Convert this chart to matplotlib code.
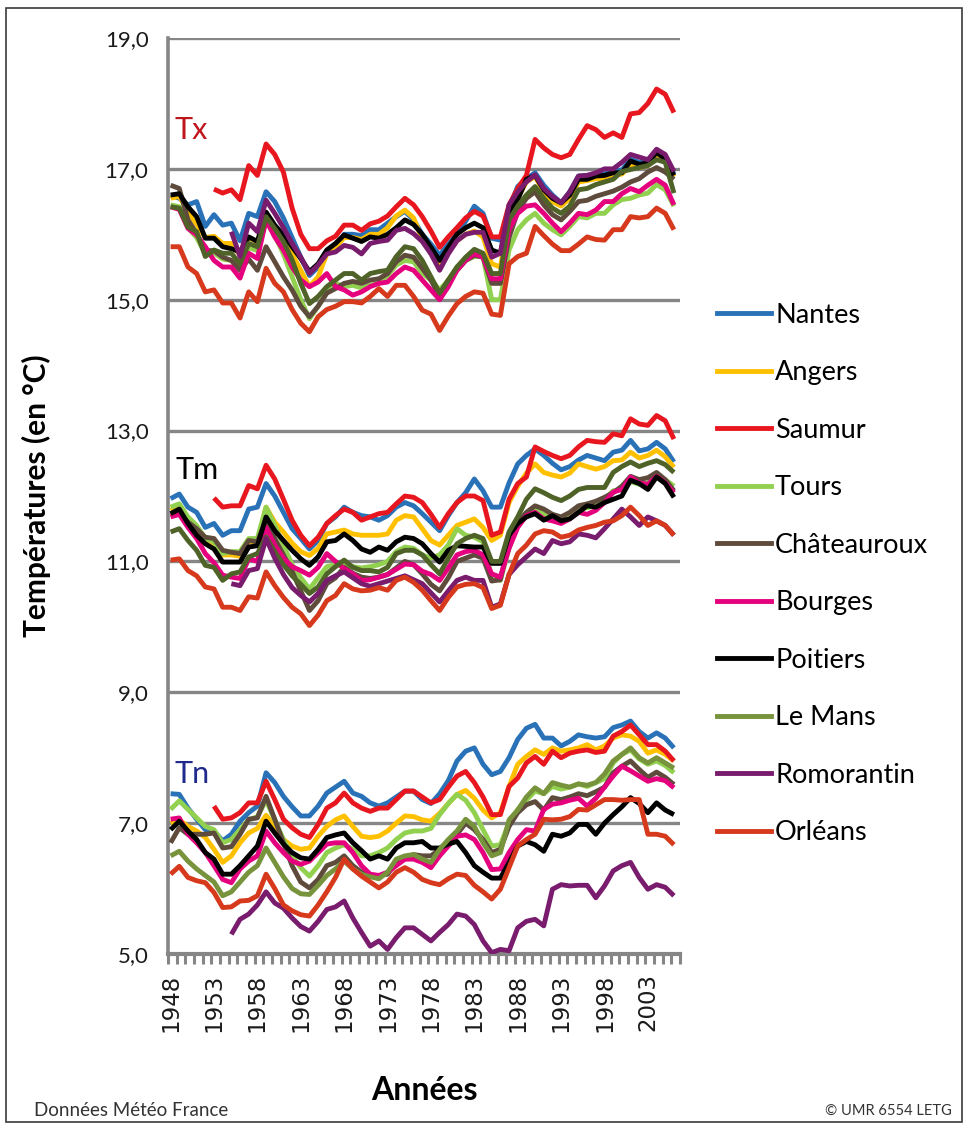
import numpy as np
import matplotlib.pyplot as plt
from matplotlib.lines import Line2D
from matplotlib.patches import Rectangle

plt.rcParams['font.family'] = ['Lato', 'DejaVu Sans']

# années 1948 - 2006
years = list(range(1948, 2007))
na = np.nan

stations = ["Nantes", "Angers", "Saumur", "Tours", "Châteauroux",
            "Bourges", "Poitiers", "Le Mans", "Romorantin", "Orléans"]
colors = ["#2A72B8", "#FFC000", "#E8161E", "#92D050", "#5E4B3C",
          "#E5007E", "#000000", "#77933C", "#7A1C6E", "#D6391C"]
olive_dark = "#4F6228"

# ---------------- Tx ----------------
tx_nantes = [16.60, 16.55, 16.45, 16.50, 16.12, 16.30, 16.14, 16.17, 15.90, 16.32,
             16.27, 16.65, 16.50, 16.25, 15.95, 15.65, 15.37, 15.50, 15.70, 15.80,
             16.00, 16.00, 15.98, 16.07, 16.07, 16.17, 16.27, 16.35, 16.22, 16.00,
             15.85, 15.68, 15.85, 16.00, 16.20, 16.43, 16.32, 15.94, 15.91, 16.40,
             16.73, 16.85, 16.94, 16.75, 16.60, 16.48, 16.65, 16.89, 16.90, 16.92,
             16.92, 16.98, 16.98, 17.15, 17.10, 17.12, 17.28, 17.18, 16.92]
tx_angers = [16.55, 16.58, 16.35, 16.15, 15.95, 15.97, 15.86, 15.86, 15.68, 15.95,
             15.88, 16.32, 16.10, 15.95, 15.70, 15.45, 15.20, 15.35, 15.70, 15.80,
             15.95, 15.95, 15.92, 16.00, 16.00, 16.10, 16.28, 16.37, 16.25, 15.92,
             15.75, 15.55, 15.75, 15.90, 16.00, 16.05, 15.96, 15.55, 15.50, 16.25,
             16.55, 16.80, 16.88, 16.65, 16.50, 16.43, 16.55, 16.80, 16.82, 16.85,
             16.85, 16.90, 16.92, 17.05, 17.02, 17.05, 17.20, 17.12, 16.88]
tx_saumur = [na, na, na, na, na, 16.69, 16.63, 16.68, 16.53, 17.05,
             16.90, 17.38, 17.22, 16.95, 16.40, 16.00, 15.78, 15.78, 15.90, 15.97,
             16.14, 16.14, 16.06, 16.16, 16.20, 16.28, 16.42, 16.55, 16.45, 16.27,
             16.05, 15.80, 15.96, 16.10, 16.25, 16.35, 16.28, 15.96, 15.96, 16.45,
             16.70, 16.90, 17.45, 17.32, 17.22, 17.17, 17.22, 17.45, 17.66, 17.60,
             17.48, 17.55, 17.48, 17.84, 17.86, 18.00, 18.22, 18.14, 17.86]
tx_tours = [16.45, 16.42, 16.10, 15.95, 15.70, 15.72, 15.62, 15.60, 15.50, 15.80,
            15.75, 16.20, 15.98, 15.70, 15.35, 15.00, 14.71, 14.90, 15.12, 15.25,
            15.20, 15.22, 15.18, 15.22, 15.25, 15.37, 15.53, 15.60, 15.58, 15.40,
            15.30, 15.15, 15.30, 15.50, 15.60, 15.66, 15.66, 15.00, 15.00, 15.76,
            16.07, 16.22, 16.32, 16.17, 16.07, 15.99, 16.12, 16.27, 16.25, 16.32,
            16.32, 16.45, 16.53, 16.55, 16.60, 16.63, 16.76, 16.68, 16.43]
tx_chateauroux = [16.75, 16.70, 16.22, 16.01, 15.75, 15.75, 15.65, 15.60, 15.45, 15.62,
                  15.45, 15.81, 15.58, 15.35, 15.15, 14.90, 14.74, 14.90, 15.10, 15.17,
                  15.25, 15.28, 15.25, 15.30, 15.32, 15.40, 15.58, 15.68, 15.65, 15.48,
                  15.30, 15.05, 15.30, 15.45, 15.60, 15.68, 15.65, 15.25, 15.25, 15.95,
                  16.35, 16.55, 16.65, 16.45, 16.30, 16.22, 16.35, 16.50, 16.52, 16.58,
                  16.62, 16.66, 16.72, 16.80, 16.85, 16.95, 17.02, 16.95, 16.84]
tx_bourges = [16.42, 16.38, 16.09, 15.99, 15.81, 15.60, 15.50, 15.50, 15.33, 15.71,
              15.63, 16.22, 15.96, 15.76, 15.50, 15.30, 15.20, 15.27, 15.40, 15.20,
              15.15, 15.07, 15.12, 15.20, 15.25, 15.27, 15.40, 15.50, 15.45, 15.30,
              15.15, 15.00, 15.20, 15.45, 15.60, 15.70, 15.65, 15.32, 15.32, 16.07,
              16.32, 16.43, 16.45, 16.32, 16.17, 16.04, 16.17, 16.32, 16.30, 16.37,
              16.50, 16.50, 16.62, 16.70, 16.65, 16.75, 16.84, 16.75, 16.45]
tx_poitiers = [16.60, 16.62, 16.42, 16.27, 15.94, 15.94, 15.81, 15.78, 15.73, 15.96,
               15.89, 16.34, 16.14, 15.99, 15.81, 15.63, 15.43, 15.55, 15.76, 15.86,
               15.99, 15.94, 15.89, 15.96, 15.94, 16.00, 16.10, 16.22, 16.15, 16.00,
               15.80, 15.60, 15.80, 16.00, 16.10, 16.17, 16.10, 15.76, 15.71, 16.32,
               16.53, 16.84, 16.90, 16.68, 16.55, 16.48, 16.60, 16.84, 16.84, 16.89,
               16.90, 16.94, 16.94, 17.12, 17.07, 17.09, 17.25, 17.15, 16.90]
tx_lemans = [16.42, 16.40, 16.11, 16.04, 15.66, 15.76, 15.71, 15.71, 15.55, 15.86,
             15.81, 16.27, 16.09, 15.89, 15.61, 15.25, 14.94, 15.05, 15.20, 15.30,
             15.40, 15.40, 15.30, 15.40, 15.43, 15.45, 15.66, 15.81, 15.78, 15.60,
             15.35, 15.10, 15.30, 15.50, 15.65, 15.77, 15.71, 15.40, 15.40, 16.22,
             16.43, 16.60, 16.73, 16.55, 16.40, 16.32, 16.43, 16.68, 16.70, 16.76,
             16.80, 16.84, 16.96, 16.99, 17.02, 17.05, 17.14, 17.10, 16.63]
tx_romorantin = [na, na, na, na, na, na, na, 16.04, 15.66, 16.17,
                 16.04, 16.52, 16.32, 16.10, 15.86, 15.65, 15.40, 15.53, 15.70, 15.73,
                 15.83, 15.80, 15.70, 15.86, 15.89, 15.91, 16.06, 16.09, 16.01, 15.89,
                 15.70, 15.45, 15.70, 15.90, 16.00, 16.03, 16.03, 15.65, 15.71, 16.45,
                 16.65, 16.80, 16.91, 16.70, 16.58, 16.48, 16.65, 16.89, 16.90, 16.94,
                 17.00, 17.00, 17.10, 17.22, 17.18, 17.14, 17.30, 17.22, 16.96]
tx_orleans = [15.81, 15.81, 15.50, 15.40, 15.12, 15.15, 14.95, 14.95, 14.72, 15.12,
              14.97, 15.48, 15.25, 15.12, 14.85, 14.64, 14.51, 14.74, 14.85, 14.90,
              14.97, 14.97, 14.95, 15.05, 15.17, 15.05, 15.22, 15.22, 15.05, 14.84,
              14.78, 14.53, 14.75, 14.94, 15.05, 15.12, 15.10, 14.78, 14.76, 15.55,
              15.66, 15.71, 16.12, 15.98, 15.85, 15.75, 15.75, 15.85, 15.96, 15.92,
              15.91, 16.07, 16.07, 16.27, 16.25, 16.27, 16.40, 16.32, 16.07]

# ---------------- Tm ----------------
tm_nantes = [11.96, 12.03, 11.83, 11.75, 11.52, 11.58, 11.40, 11.47, 11.47, 11.80,
             11.83, 12.19, 12.00, 11.75, 11.50, 11.35, 11.19, 11.32, 11.58, 11.68,
             11.83, 11.75, 11.70, 11.68, 11.63, 11.70, 11.83, 11.90, 11.85, 11.73,
             11.60, 11.47, 11.70, 11.90, 12.05, 12.26, 12.08, 11.83, 11.83, 12.20,
             12.49, 12.62, 12.72, 12.62, 12.50, 12.40, 12.45, 12.55, 12.62, 12.58,
             12.54, 12.67, 12.70, 12.85, 12.69, 12.72, 12.82, 12.72, 12.52]
tm_angers = [11.78, 11.85, 11.62, 11.50, 11.32, 11.28, 11.10, 11.10, 11.08, 11.30,
             11.30, 11.83, 11.60, 11.45, 11.28, 11.15, 11.09, 11.20, 11.42, 11.45,
             11.48, 11.42, 11.40, 11.40, 11.40, 11.42, 11.63, 11.70, 11.68, 11.50,
             11.32, 11.25, 11.40, 11.55, 11.60, 11.65, 11.52, 11.32, 11.40, 11.90,
             12.15, 12.35, 12.49, 12.36, 12.32, 12.29, 12.35, 12.49, 12.45, 12.41,
             12.45, 12.54, 12.55, 12.67, 12.58, 12.62, 12.70, 12.60, 12.44]
tm_saumur = [na, na, na, na, na, 11.97, 11.83, 11.85, 11.85, 12.16,
             12.11, 12.47, 12.26, 11.95, 11.63, 11.40, 11.24, 11.37, 11.58, 11.70,
             11.80, 11.75, 11.63, 11.68, 11.73, 11.75, 11.88, 12.00, 11.98, 11.90,
             11.72, 11.52, 11.73, 11.90, 12.00, 12.00, 11.93, 11.40, 11.45, 11.95,
             12.19, 12.29, 12.75, 12.68, 12.62, 12.57, 12.62, 12.75, 12.85, 12.83,
             12.82, 12.95, 12.92, 13.18, 13.10, 13.08, 13.23, 13.15, 12.87]
tm_tours = [11.83, 11.88, 11.68, 11.55, 11.35, 11.30, 11.12, 11.15, 11.15, 11.35,
            11.35, 11.83, 11.55, 11.25, 10.95, 10.75, 10.58, 10.75, 10.92, 10.95,
            10.94, 10.92, 10.90, 10.92, 10.95, 11.00, 11.15, 11.22, 11.20, 11.10,
            11.05, 11.10, 11.25, 11.50, 11.40, 11.37, 11.30, 10.76, 10.71, 11.20,
            11.58, 11.73, 11.80, 11.72, 11.70, 11.65, 11.70, 11.80, 11.82, 11.85,
            11.95, 12.08, 12.10, 12.22, 12.18, 12.20, 12.30, 12.25, 12.15]
tm_chateauroux = [11.70, 11.72, 11.60, 11.50, 11.37, 11.35, 11.17, 11.14, 11.12, 11.32,
                  11.30, 11.63, 11.35, 11.10, 10.85, 10.55, 10.25, 10.40, 10.66, 10.75,
                  10.91, 10.82, 10.76, 10.74, 10.76, 10.80, 10.90, 11.00, 10.95, 10.81,
                  10.65, 10.55, 10.75, 11.00, 11.05, 11.10, 11.05, 10.70, 10.72, 11.30,
                  11.60, 11.75, 11.85, 11.80, 11.72, 11.68, 11.75, 11.85, 11.88, 11.92,
                  11.98, 12.05, 12.15, 12.30, 12.25, 12.28, 12.36, 12.25, 12.08]
tm_bourges = [11.68, 11.72, 11.52, 11.35, 11.12, 10.98, 10.79, 10.76, 10.74, 11.04,
              11.00, 11.52, 11.25, 11.05, 10.92, 10.86, 10.79, 10.91, 11.12, 11.00,
              10.89, 10.81, 10.71, 10.72, 10.76, 10.80, 10.88, 10.96, 10.95, 10.85,
              10.80, 10.71, 10.90, 11.10, 11.15, 11.17, 11.10, 10.81, 10.76, 11.20,
              11.52, 11.70, 11.75, 11.65, 11.62, 11.58, 11.65, 11.75, 11.72, 11.78,
              11.90, 12.06, 12.10, 12.29, 12.20, 12.18, 12.30, 12.20, 12.05]
tm_poitiers = [11.73, 11.80, 11.58, 11.40, 11.27, 11.19, 10.99, 10.99, 10.99, 11.22,
               11.24, 11.68, 11.47, 11.32, 11.17, 11.04, 10.94, 11.07, 11.30, 11.32,
               11.42, 11.32, 11.19, 11.14, 11.22, 11.17, 11.30, 11.37, 11.35, 11.27,
               11.12, 10.99, 11.17, 11.24, 11.23, 11.22, 11.22, 10.97, 10.97, 11.40,
               11.58, 11.68, 11.73, 11.63, 11.70, 11.62, 11.65, 11.75, 11.85, 11.83,
               11.90, 11.95, 12.00, 12.24, 12.19, 12.10, 12.29, 12.19, 11.98]
tm_lemans = [11.45, 11.50, 11.32, 11.17, 10.94, 10.91, 10.71, 10.81, 10.84, 11.07,
             11.12, 11.37, 11.15, 10.95, 10.78, 10.65, 10.51, 10.61, 10.81, 10.92,
             11.02, 10.91, 10.86, 10.86, 10.84, 10.91, 11.12, 11.17, 11.17, 11.10,
             10.95, 10.81, 11.05, 11.27, 11.35, 11.40, 11.35, 11.00, 11.00, 11.45,
             11.68, 11.95, 12.11, 12.05, 11.98, 11.93, 12.00, 12.10, 12.13, 12.13,
             12.13, 12.36, 12.45, 12.52, 12.45, 12.50, 12.54, 12.48, 12.36]
tm_romorantin = [na, na, na, na, na, na, na, 10.66, 10.63, 10.86,
                 10.89, 11.35, 11.05, 10.80, 10.60, 10.48, 10.38, 10.51, 10.71, 10.78,
                 10.84, 10.75, 10.66, 10.62, 10.66, 10.70, 10.74, 10.78, 10.72, 10.66,
                 10.52, 10.38, 10.55, 10.71, 10.76, 10.71, 10.71, 10.30, 10.35, 10.80,
                 10.95, 11.07, 11.19, 11.12, 11.32, 11.27, 11.30, 11.42, 11.40, 11.36,
                 11.50, 11.65, 11.80, 11.68, 11.55, 11.68, 11.62, 11.55, 11.40]
tm_orleans = [11.02, 11.04, 10.86, 10.78, 10.61, 10.58, 10.30, 10.30, 10.25, 10.46,
              10.44, 10.84, 10.63, 10.45, 10.30, 10.20, 10.02, 10.18, 10.40, 10.48,
              10.66, 10.58, 10.55, 10.56, 10.60, 10.56, 10.71, 10.76, 10.68, 10.56,
              10.40, 10.25, 10.45, 10.61, 10.65, 10.66, 10.60, 10.28, 10.33, 10.80,
              11.12, 11.25, 11.42, 11.47, 11.45, 11.37, 11.40, 11.48, 11.52, 11.55,
              11.60, 11.62, 11.70, 11.83, 11.70, 11.55, 11.62, 11.55, 11.40]

# ---------------- Tn ----------------
tn_nantes = [7.45, 7.44, 7.23, 7.06, 6.90, 6.88, 6.73, 6.83, 7.03, 7.16,
             7.26, 7.77, 7.62, 7.41, 7.25, 7.11, 7.11, 7.26, 7.46, 7.55,
             7.64, 7.46, 7.41, 7.31, 7.26, 7.31, 7.40, 7.49, 7.49, 7.36,
             7.30, 7.45, 7.65, 7.95, 8.10, 8.15, 7.90, 7.74, 7.79, 8.00,
             8.28, 8.45, 8.51, 8.30, 8.30, 8.18, 8.25, 8.35, 8.32, 8.30,
             8.32, 8.46, 8.50, 8.56, 8.40, 8.30, 8.38, 8.30, 8.15]
tn_angers = [7.00, 7.05, 6.95, 6.88, 6.78, 6.60, 6.40, 6.50, 6.70, 6.85,
             6.92, 7.12, 6.95, 6.75, 6.65, 6.60, 6.62, 6.80, 6.95, 7.05,
             7.11, 6.95, 6.80, 6.78, 6.80, 6.88, 7.00, 7.11, 7.10, 7.05,
             7.03, 7.15, 7.30, 7.44, 7.50, 7.38, 7.20, 7.08, 7.16, 7.56,
             7.90, 8.02, 8.12, 8.05, 8.15, 8.10, 8.12, 8.15, 8.20, 8.12,
             8.18, 8.30, 8.35, 8.33, 8.25, 8.07, 8.12, 8.05, 7.95]
tn_saumur = [na, na, na, na, na, 7.26, 7.06, 7.08, 7.16, 7.31,
             7.31, 7.64, 7.36, 7.06, 6.93, 6.83, 6.78, 6.98, 7.23, 7.31,
             7.46, 7.31, 7.23, 7.18, 7.23, 7.23, 7.36, 7.49, 7.49, 7.40,
             7.31, 7.36, 7.55, 7.72, 7.79, 7.62, 7.40, 7.13, 7.13, 7.56,
             7.69, 7.92, 8.02, 7.90, 8.10, 8.00, 8.07, 8.10, 8.12, 8.08,
             8.10, 8.33, 8.40, 8.50, 8.35, 8.20, 8.20, 8.10, 7.95]
tn_tours = [7.21, 7.34, 7.21, 7.08, 6.95, 6.90, 6.70, 6.75, 6.90, 7.05,
            7.10, 7.35, 7.05, 6.75, 6.50, 6.32, 6.19, 6.35, 6.55, 6.62,
            6.67, 6.60, 6.50, 6.50, 6.55, 6.62, 6.75, 6.85, 6.88, 6.88,
            6.92, 7.13, 7.30, 7.44, 7.35, 7.16, 6.90, 6.65, 6.67, 7.00,
            7.21, 7.35, 7.49, 7.45, 7.56, 7.52, 7.55, 7.60, 7.56, 7.62,
            7.68, 7.92, 8.05, 8.12, 7.98, 7.90, 7.95, 7.88, 7.77]
tn_chateauroux = [6.70, 6.93, 6.83, 6.83, 6.83, 6.85, 6.62, 6.64, 6.83, 7.06,
                  7.08, 7.41, 7.06, 6.70, 6.35, 6.10, 6.01, 6.14, 6.35, 6.40,
                  6.50, 6.35, 6.25, 6.20, 6.20, 6.22, 6.40, 6.45, 6.52, 6.50,
                  6.50, 6.60, 6.72, 6.83, 7.00, 6.90, 6.75, 6.55, 6.60, 6.95,
                  7.16, 7.28, 7.33, 7.20, 7.39, 7.36, 7.40, 7.45, 7.42, 7.48,
                  7.55, 7.77, 7.87, 7.95, 7.82, 7.70, 7.78, 7.70, 7.59]
tn_bourges = [7.06, 7.08, 6.83, 6.70, 6.55, 6.35, 6.14, 6.09, 6.30, 6.42,
              6.50, 6.88, 6.70, 6.55, 6.42, 6.37, 6.42, 6.55, 6.68, 6.70,
              6.70, 6.55, 6.35, 6.22, 6.20, 6.25, 6.35, 6.45, 6.45, 6.40,
              6.32, 6.50, 6.65, 6.80, 6.82, 6.75, 6.55, 6.29, 6.30, 6.55,
              6.75, 6.90, 6.88, 7.21, 7.29, 7.31, 7.35, 7.38, 7.26, 7.38,
              7.55, 7.72, 7.87, 7.80, 7.72, 7.64, 7.68, 7.65, 7.54]
tn_poitiers = [6.90, 7.03, 6.88, 6.75, 6.55, 6.45, 6.22, 6.22, 6.35, 6.50,
               6.65, 7.03, 6.85, 6.68, 6.55, 6.47, 6.45, 6.60, 6.78, 6.82,
               6.85, 6.70, 6.58, 6.45, 6.50, 6.45, 6.62, 6.70, 6.70, 6.72,
               6.62, 6.62, 6.68, 6.72, 6.55, 6.35, 6.25, 6.16, 6.16, 6.40,
               6.65, 6.72, 6.67, 6.57, 6.83, 6.80, 6.85, 6.98, 6.98, 6.83,
               7.00, 7.13, 7.25, 7.39, 7.30, 7.16, 7.31, 7.20, 7.13]
tn_lemans = [6.50, 6.57, 6.42, 6.30, 6.20, 6.10, 5.89, 5.95, 6.10, 6.25,
             6.35, 6.62, 6.40, 6.18, 6.00, 5.92, 5.91, 6.05, 6.20, 6.30,
             6.42, 6.30, 6.22, 6.18, 6.15, 6.25, 6.45, 6.50, 6.52, 6.45,
             6.40, 6.60, 6.75, 6.88, 7.06, 6.95, 6.70, 6.50, 6.55, 7.05,
             7.20, 7.40, 7.54, 7.45, 7.62, 7.58, 7.55, 7.60, 7.58, 7.62,
             7.75, 7.95, 8.05, 8.15, 8.00, 7.92, 8.00, 7.92, 7.84]
tn_romorantin = [na, na, na, na, na, na, na, 5.30, 5.53, 5.61,
                 5.75, 5.95, 5.78, 5.70, 5.55, 5.42, 5.35, 5.50, 5.68, 5.72,
                 5.81, 5.55, 5.33, 5.12, 5.20, 5.07, 5.25, 5.40, 5.40, 5.30,
                 5.20, 5.33, 5.45, 5.61, 5.58, 5.45, 5.20, 5.02, 5.07, 5.05,
                 5.40, 5.50, 5.53, 5.43, 5.99, 6.06, 6.04, 6.05, 6.05, 5.86,
                 6.04, 6.27, 6.35, 6.40, 6.17, 5.99, 6.06, 6.02, 5.89]
tn_orleans = [6.22, 6.34, 6.17, 6.12, 6.09, 5.94, 5.71, 5.72, 5.81, 5.82,
              5.89, 6.22, 6.00, 5.75, 5.66, 5.60, 5.58, 5.75, 5.95, 6.17,
              6.45, 6.30, 6.19, 6.10, 6.01, 6.10, 6.25, 6.32, 6.25, 6.14,
              6.09, 6.06, 6.15, 6.22, 6.20, 6.05, 5.95, 5.84, 5.99, 6.32,
              6.65, 6.75, 6.83, 7.06, 7.05, 7.06, 7.10, 7.21, 7.20, 7.28,
              7.36, 7.36, 7.35, 7.36, 7.36, 6.83, 6.83, 6.80, 6.67]

tx_all = [tx_nantes, tx_angers, tx_saumur, tx_tours, tx_chateauroux,
          tx_bourges, tx_poitiers, tx_lemans, tx_romorantin, tx_orleans]
tm_all = [tm_nantes, tm_angers, tm_saumur, tm_tours, tm_chateauroux,
          tm_bourges, tm_poitiers, tm_lemans, tm_romorantin, tm_orleans]
tn_all = [tn_nantes, tn_angers, tn_saumur, tn_tours, tn_chateauroux,
          tn_bourges, tn_poitiers, tn_lemans, tn_romorantin, tn_orleans]

W, H = 968, 1130
fig = plt.figure(figsize=(W / 100, H / 100), dpi=100)
fig.patches.append(Rectangle((6 / W, 8 / H), 956 / W, 1114 / H, transform=fig.transFigure,
                             fill=False, edgecolor="#3a3a3a", linewidth=1.2))

ax = fig.add_axes([168 / W, 1 - 954 / H, (680 - 168) / W, (954 - 38) / H])
grey = "#868686"
lw = 3.5

for grp in (tx_all, tm_all, tn_all):
    for i, serie in enumerate(grp):
        c = colors[i]
        if stations[i] == "Le Mans" and grp is not tn_all:
            c = olive_dark
        ax.plot(years, serie, color=c, linewidth=lw, solid_joinstyle="round",
                solid_capstyle="butt", zorder=3)

ax.set_xlim(1947.7, 2006.7)
ax.set_ylim(5, 19)
ax.set_yticks(np.arange(5, 19.1, 2))
ax.set_yticklabels([("%.1f" % v).replace(".", ",") for v in np.arange(5, 19.1, 2)],
                   fontsize=16, color="#1a1a1a")
ax.yaxis.grid(True, color=grey, linewidth=2.4, zorder=1)
ax.set_axisbelow(True)
ax.tick_params(axis="y", length=0, pad=14)

ax.set_xticks(range(1948, 2007, 5))
ax.set_xticklabels([str(y) for y in range(1948, 2007, 5)], rotation=90,
                   fontsize=16.5, family="DejaVu Sans", color="#1a1a1a")
ax.set_xticks(np.arange(1947.7, 2006.8, 1.0), minor=True)
ax.tick_params(axis="x", which="major", length=0, pad=14)
ax.tick_params(axis="x", which="minor", length=7, width=2.2, color=grey, direction="out")

for s in ("top", "right"):
    ax.spines[s].set_visible(False)
ax.spines["left"].set_color(grey)
ax.spines["left"].set_linewidth(2.6)
ax.spines["bottom"].set_color(grey)
ax.spines["bottom"].set_linewidth(3.0)

ax.text(1948.4, 17.6, "Tx", fontsize=22, color="#C0141C", va="center")
ax.text(1948.6, 12.4, "Tm", fontsize=22, color="#000000", va="center")
ax.text(1948.4, 7.75, "Tn", fontsize=22, color="#1F2A8C", va="center")

ax.set_ylabel("Températures (en °C)", fontsize=21.5, fontweight="bold")
ax.yaxis.set_label_coords(-0.228, 0.5)
ax.set_xlabel("Années", fontsize=23, fontweight="bold", labelpad=32)

# légende
handles = [Line2D([0], [0], color=c, linewidth=lw) for c in colors]
fig.legend(handles, stations, loc="upper left", bbox_to_anchor=(706 / W, 1 - 292 / H),
           frameon=False, fontsize=19.5, handlelength=2.0, handletextpad=0.15,
           labelspacing=1.2, borderaxespad=0)

fig.text(34 / W, 1 - 1111 / H, "Données Météo France", fontsize=13.5, color="#333333",
         va="center", ha="left")
fig.text(952 / W, 1 - 1111 / H, "© UMR 6554 LETG", fontsize=10.5, color="#333333",
         va="center", ha="right")

fig.savefig("out.png", dpi=100)
